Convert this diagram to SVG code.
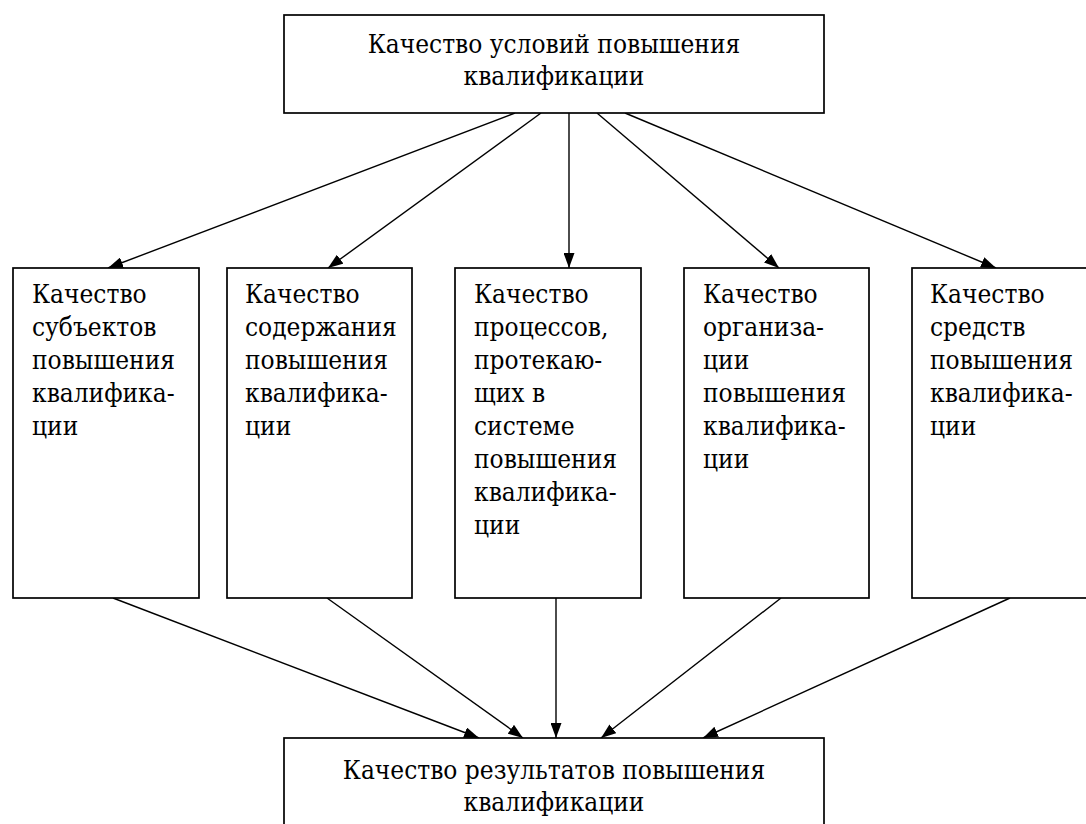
<svg xmlns="http://www.w3.org/2000/svg" width="1086" height="824" viewBox="0 0 1086 824">
<defs>
<marker id="ah" viewBox="0 0 15 11" refX="15" refY="5.5" markerWidth="15" markerHeight="11" markerUnits="userSpaceOnUse" orient="auto">
<path d="M0,0 L15,5.5 L0,11 Z" fill="#000"/>
</marker>
<style>
.box{fill:#fff;stroke:#000;stroke-width:1.7}
.t{font-family:'DejaVu Serif Condensed','DejaVu Serif',serif;font-stretch:condensed;font-size:26px;fill:#000}
.c{text-anchor:middle}
.ln{stroke:#000;stroke-width:1.4;fill:none;marker-end:url(#ah)}
</style>
</defs>
<rect width="1086" height="824" fill="#fff"/>
<g id="connectors">
<line class="ln" x1="515" y1="113" x2="108" y2="268"/>
<line class="ln" x1="541" y1="113" x2="328" y2="268"/>
<line class="ln" x1="569" y1="113" x2="569" y2="268"/>
<line class="ln" x1="597" y1="113" x2="779" y2="268"/>
<line class="ln" x1="625" y1="113" x2="996" y2="268"/>
<line class="ln" x1="113" y1="598" x2="479" y2="738"/>
<line class="ln" x1="327" y1="598" x2="523" y2="738"/>
<line class="ln" x1="556" y1="598" x2="556" y2="738"/>
<line class="ln" x1="781" y1="598" x2="601" y2="738"/>
<line class="ln" x1="1010" y1="598" x2="703" y2="738"/>
</g>
<g id="top">
<rect class="box" x="284" y="15" width="540" height="98"/>
<text class="t c" x="554" y="53">Качество условий повышения</text>
<text class="t c" x="554" y="85">квалификации</text>
</g>
<g id="n1">
<rect class="box" x="13" y="268" width="186" height="330"/>
<text class="t" x="32" y="303">Качество</text>
<text class="t" x="32" y="336">субъектов</text>
<text class="t" x="32" y="369">повышения</text>
<text class="t" x="32" y="402">квалифика-</text>
<text class="t" x="32" y="435">ции</text>
</g>
<g id="n2">
<rect class="box" x="227" y="268" width="185" height="330"/>
<text class="t" x="245" y="303">Качество</text>
<text class="t" x="245" y="336">содержания</text>
<text class="t" x="245" y="369">повышения</text>
<text class="t" x="245" y="402">квалифика-</text>
<text class="t" x="245" y="435">ции</text>
</g>
<g id="n3">
<rect class="box" x="455" y="268" width="186" height="330"/>
<text class="t" x="474" y="303">Качество</text>
<text class="t" x="474" y="336">процессов,</text>
<text class="t" x="474" y="369">протекаю-</text>
<text class="t" x="474" y="402">щих в</text>
<text class="t" x="474" y="435">системе</text>
<text class="t" x="474" y="468">повышения</text>
<text class="t" x="474" y="501">квалифика-</text>
<text class="t" x="474" y="534">ции</text>
</g>
<g id="n4">
<rect class="box" x="684" y="268" width="185" height="330"/>
<text class="t" x="703" y="303">Качество</text>
<text class="t" x="703" y="336">организа-</text>
<text class="t" x="703" y="369">ции</text>
<text class="t" x="703" y="402">повышения</text>
<text class="t" x="703" y="435">квалифика-</text>
<text class="t" x="703" y="468">ции</text>
</g>
<g id="n5">
<rect class="box" x="912" y="268" width="190" height="330"/>
<text class="t" x="930" y="303">Качество</text>
<text class="t" x="930" y="336">средств</text>
<text class="t" x="930" y="369">повышения</text>
<text class="t" x="930" y="402">квалифика-</text>
<text class="t" x="930" y="435">ции</text>
</g>
<g id="bottom">
<rect class="box" x="284" y="738" width="540" height="100"/>
<text class="t c" x="554" y="779">Качество результатов повышения</text>
<text class="t c" x="554" y="811">квалификации</text>
</g>
</svg>
